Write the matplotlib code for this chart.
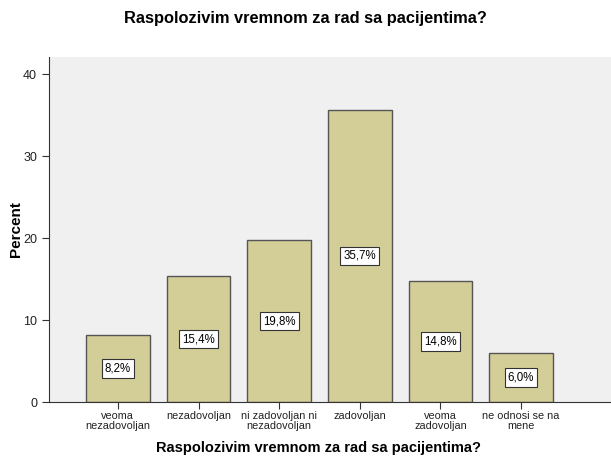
import matplotlib
matplotlib.use('Agg')
import matplotlib.pyplot as plt

plt.rcParams['font.family'] = ['Liberation Sans', 'DejaVu Sans']

categories = ['veoma\nnezadovoljan', 'nezadovoljan', 'ni zadovoljan ni\nnezadovoljan',
              'zadovoljan', 'veoma\nzadovoljan', 'ne odnosi se na\nmene']
percent = [8.2, 15.4, 19.8, 35.7, 14.8, 6.0]
title = 'Raspolozivim vremnom za rad sa pacijentima?'

fig = plt.figure(figsize=(6.11, 4.57), dpi=100)
ax = fig.add_axes([0.080, 0.120, 0.920, 0.755])
ax.set_facecolor('#f0f0f0')

x = range(len(categories))
ax.bar(x, percent, width=0.79, color='#d3ce98', edgecolor='#555555', linewidth=1.0, zorder=2)

for i, v in enumerate(percent):
    ax.text(i, v / 2, ('%.1f%%' % v).replace('.', ','), ha='center', va='center',
            fontsize=8.3, zorder=3,
            bbox=dict(boxstyle='square,pad=0.27', facecolor='white', edgecolor='#333333', linewidth=0.8))

ax.set_xlim(-0.856, 6.116)
ax.set_ylim(0, 42.1)
ax.set_yticks([0, 10, 20, 30, 40])
ax.set_xticks(list(x))
ax.set_xticklabels(categories, fontsize=7.8, linespacing=0.95)
ax.tick_params(axis='y', labelsize=9, length=5, color='#333333', labelcolor='#222222')
ax.tick_params(axis='x', length=5, color='#333333', pad=1.5, labelcolor='#222222')

for side in ['top', 'right']:
    ax.spines[side].set_visible(False)
ax.spines['left'].set_color('#333333')
ax.spines['bottom'].set_color('#333333')

fig.text(16 / 611, 1 - 229 / 457, 'Percent', rotation=90, ha='center', va='center',
         fontsize=11, fontweight='bold')
fig.text(319 / 611, 1 - 448 / 457, title, ha='center', va='center', fontsize=10.5, fontweight='bold')
fig.text(0.5, 1 - 18 / 457, title, ha='center', va='center', fontsize=11.8, fontweight='bold')

fig.savefig('out.png', dpi=100, facecolor='white')
